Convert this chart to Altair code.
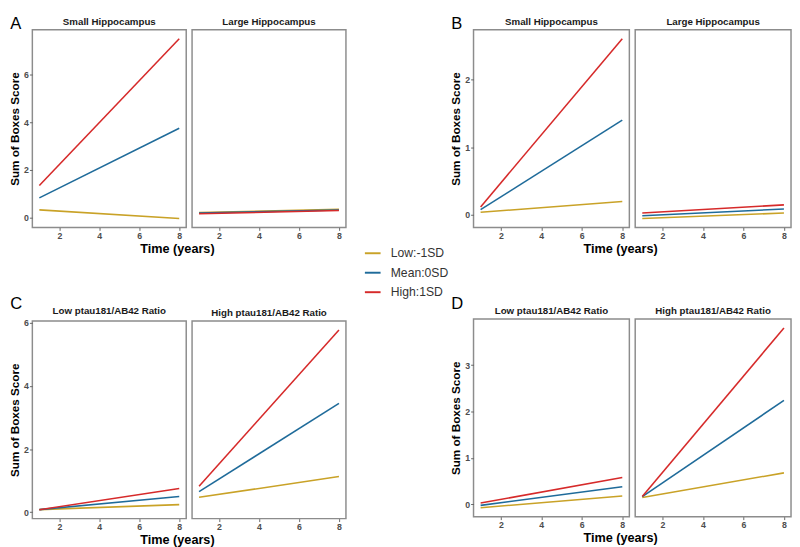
import altair as alt
import pandas as pd

# ---------------- data ----------------
levels = ["Low:-1SD", "Mean:0SD", "High:1SD"]
level_colors = ["#c9a227", "#1f6b9a", "#d62a2a"]
time_points = [1, 8]
x_ticks = [2, 4, 6, 8]

hippo_panels = ["Small Hippocampus", "Large Hippocampus"]
ratio_panels = ["Low ptau181/AB42 Ratio", "High ptau181/AB42 Ratio"]

# each list: [left panel (start, end), right panel (start, end)]
a_low = [[0.33, -0.03], [0.22, 0.35]]
a_mean = [[0.83, 3.75], [0.20, 0.32]]
a_high = [[1.35, 7.50], [0.17, 0.30]]
a_yticks = [0, 2, 4, 6]

b_low = [[0.04, 0.20], [-0.05, 0.03]]
b_mean = [[0.08, 1.40], [-0.01, 0.09]]
b_high = [[0.12, 2.60], [0.03, 0.15]]
b_yticks = [0, 1, 2]

c_low = [[0.08, 0.24], [0.47, 1.13]]
c_mean = [[0.08, 0.50], [0.65, 3.45]]
c_high = [[0.08, 0.75], [0.82, 5.78]]
c_yticks = [0, 2, 4, 6]

d_low = [[-0.07, 0.18], [0.15, 0.68]]
d_mean = [[-0.02, 0.38], [0.17, 2.24]]
d_high = [[0.03, 0.58], [0.17, 3.80]]
d_yticks = [0, 1, 2, 3, 4]

FONT = "Liberation Sans"
PANEL_H = 203


def expand(vals):
    lo, hi = min(vals), max(vals)
    pad = 0.05 * (hi - lo)
    return [lo - pad, hi + pad]


def quadrant(letter, panels, low, mean, high, yticks, panel_w, letter_dy):
    rows = []
    for p_i, panel in enumerate(panels):
        for lev, series in zip(levels, [low, mean, high]):
            for t, v in zip(time_points, series[p_i]):
                rows.append({"panel": panel, "level": lev, "time": t, "score": v})
    df = pd.DataFrame(rows)
    ydom = expand(df["score"].tolist())
    xdom = expand(time_points)

    charts = []
    for p_i, panel in enumerate(panels):
        sub = df[df["panel"] == panel]
        if p_i == 0:
            yaxis = alt.Axis(values=yticks, title="Sum of Boxes Score", grid=False,
                             domain=False, titleFontSize=12, titleFontWeight="bold",
                             titleColor="#000000", titlePadding=2)
        else:
            yaxis = None
        line = alt.Chart(sub).mark_line(strokeWidth=1.6).encode(
            x=alt.X("time:Q", scale=alt.Scale(domain=xdom, nice=False, zero=False),
                    axis=alt.Axis(values=x_ticks, title=None, grid=False, domain=False)),
            y=alt.Y("score:Q", scale=alt.Scale(domain=ydom, nice=False, zero=False), axis=yaxis),
            color=alt.Color("level:N", scale=alt.Scale(domain=levels, range=level_colors), legend=None),
        ).properties(
            width=panel_w, height=PANEL_H,
            title=alt.TitleParams(panel, fontSize=10, fontWeight="bold", font=FONT,
                                  color="#1a1a1a", offset=3, anchor="middle"),
        )
        charts.append(line)
    body = alt.hconcat(*charts, spacing=4).properties(
        title=alt.TitleParams("Time (years)", orient="bottom", anchor="middle", fontSize=13,
                              fontWeight="bold", font=FONT, color="#000000", offset=2)
    )
    return alt.vconcat(body, spacing=0).properties(
        title=alt.TitleParams(letter, orient="top", anchor="start", fontSize=17,
                              fontWeight="normal", font=FONT, color="#000000",
                              offset=0, dy=letter_dy, dx=2)
    )


qa = quadrant("A", hippo_panels, a_low, a_mean, a_high, a_yticks, 158, 17)
qb = quadrant("B", hippo_panels, b_low, b_mean, b_high, b_yticks, 160, 17)
qc = quadrant("C", ratio_panels, c_low, c_mean, c_high, c_yticks, 158, 7)
qd = quadrant("D", ratio_panels, d_low, d_mean, d_high, d_yticks, 160, 7)

legend_df = pd.DataFrame({"level": levels})
mid = alt.Chart(legend_df).mark_point(opacity=0).encode(
    color=alt.Color(
        "level:N",
        scale=alt.Scale(domain=levels, range=level_colors),
        legend=alt.Legend(
            orient="none", legendX=17, legendY=220, title=None,
            symbolType="stroke", symbolStrokeWidth=2, symbolSize=260, symbolOpacity=1,
            labelFontSize=12.5, labelFont=FONT, labelColor="#333333",
            labelOffset=9, rowPadding=4,
        ),
    )
).properties(width=97, height=400, view=alt.ViewBackground(strokeOpacity=0))

chart = alt.hconcat(
    alt.vconcat(qa, qc, spacing=40),
    mid,
    alt.vconcat(qb, qd, spacing=40),
    spacing=0,
).resolve_legend(color="independent").configure_view(
    stroke="#8c8c8c", strokeWidth=1.5
).configure_axis(
    labelFont=FONT, labelFontSize=9, labelFontWeight="bold", labelColor="#4d4d4d",
    tickColor="#666666", tickSize=3, tickWidth=1, titleFont=FONT, labelPadding=1,
).properties(padding=0, background="#ffffff")

chart.save("out.html", embed_options={"renderer": "svg", "actions": False})
